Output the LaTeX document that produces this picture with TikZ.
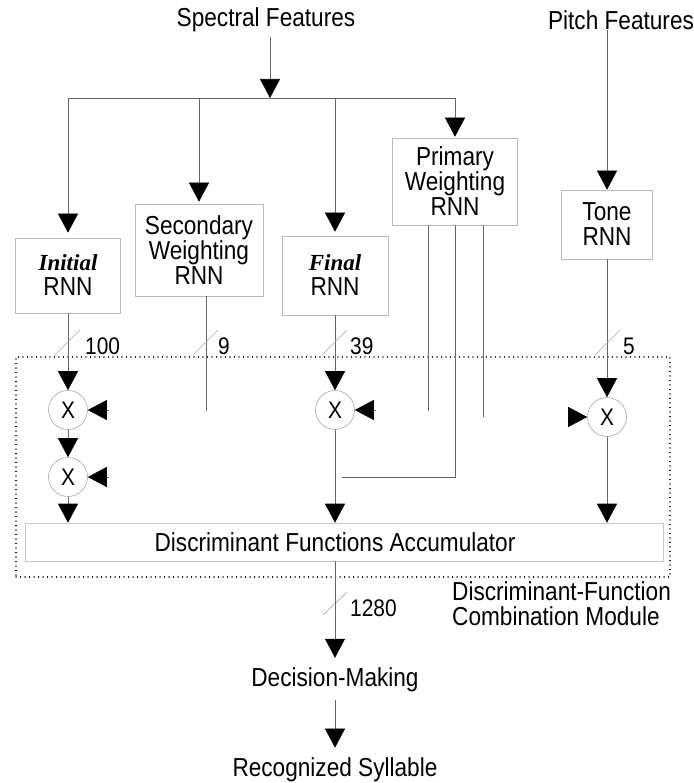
\documentclass[tikz,border=0pt]{standalone}
\usepackage{fontspec}
\setmainfont[FakeStretch=0.87]{Liberation Sans}
\newfontfamily\biserif{Liberation Serif}
\usetikzlibrary{arrows.meta}
\begin{document}
\begin{tikzpicture}[x=1pt,y=-1pt,
  lbl/.style={font=\fontsize{26}{25}\selectfont, inner sep=0pt},
  blk/.style={draw=gray!55, line width=0.6pt, inner sep=0pt, align=center, font=\fontsize{26}{25}\selectfont},
  wire/.style={draw=black!60, line width=0.6pt},
  arr/.style={wire, -{Triangle[width=20pt,length=19pt,black]}},
  mult/.style={circle, draw=gray!70, line width=0.6pt, minimum size=39pt, inner sep=0pt, font=\fontsize{24}{24}\selectfont},
  num/.style={font=\fontsize{24}{24}\selectfont, anchor=west, inner sep=0pt},
  slash/.style={draw=gray!70, line width=0.6pt}
]
\useasboundingbox (0,0) rectangle (693,783);

% inputs
\node[lbl] (spec) at (266,20) {Spectral Features};
\node[lbl] (pitch) at (621,20) {Pitch Features};
\coordinate (sp) at (270,98);
\coordinate (sptop) at (270,37);
\draw[arr] (sptop) -- (sp);

% RNN blocks
\node[blk, minimum width=105pt, minimum height=75pt] (init) at (68,275.5) {{\fontsize{23}{25}\selectfont\biserif\bfseries\itshape Initial}\\RNN};
\node[blk, minimum width=128pt, minimum height=92pt] (sec) at (199,250) {Secondary\\Weighting\\RNN};
\node[blk, minimum width=106pt, minimum height=79pt] (fin) at (335,275.5) {{\fontsize{23}{25}\selectfont\biserif\bfseries\itshape Final}\\RNN};
\node[blk, minimum width=125pt, minimum height=87pt] (prim) at (455,181.5) {Primary\\Weighting\\RNN};
\node[blk, minimum width=91pt, minimum height=69pt] (tone) at (607,224.5) {Tone\\RNN};

% distribution of spectral features
\draw[wire] (init.north |- sp) -- (prim.north |- sp);
\draw[arr, shorten >=5pt] (init.north |- sp) -- (init.north);
\draw[arr, shorten >=2pt] (sec.north |- sp) -- (sec.north);
\draw[arr, shorten >=4pt] (fin.north |- sp) -- (fin.north);
\draw[arr, shorten >=1pt] (prim.north |- sp) -- (prim.north);
\draw[arr] (pitch.south -| tone.north) -- (tone.north);

% combination module
\node[draw=black, line width=1.3pt, dash pattern=on 0.1pt off 4.4pt, line cap=round,
      minimum width=654pt, minimum height=220pt, inner sep=0pt] (mod) at (343,467) {};
\node[lbl, align=left, anchor=west] (modl) at (452,604) {Discriminant-Function\\Combination Module};

\node[draw=gray!45, line width=0.6pt, minimum width=638pt, minimum height=38pt, inner sep=0pt] (acc) at (344,542) {};
\node[lbl] (acct) at (335,542) {Discriminant Functions Accumulator};

% multipliers
\node[mult] (m1) at (68,410) {X};
\node[mult] (m2) at (68,477) {X};
\node[mult] (m3) at (335,410) {X};
\node[mult] (m4) at (607,417) {X};

% initial path
\draw[arr] (init.south) -- (m1.north);
\draw[arr] (m1.south) -- (m2.north);
\draw[arr] (m2.south) -- (m2.south |- acc.north);
\coordinate (w1) at (109,410);
\coordinate (w2) at (109,477);
\draw[arr] (w1) -- (m1.east);
\draw[arr] (w2) -- (m2.east);

% secondary output
\coordinate (s9) at (206,411);
\draw[wire] (sec.south -| s9) -- (s9);

% final path
\draw[arr] (fin.south) -- (m3.north);
\draw[arr] (m3.south) -- (m3.south |- acc.north);
\coordinate (w3) at (376,410);
\draw[arr] (w3) -- (m3.east);

% primary outputs
\coordinate (p1) at (428,411);
\coordinate (p2) at (455,477);
\coordinate (p2e) at (342,477);
\coordinate (p3) at (483,417);
\draw[wire] (prim.south -| p1) -- (p1);
\draw[wire] (prim.south -| p2) -- (p2) -- (p2e);
\draw[wire] (prim.south -| p3) -- (p3);

% tone path
\draw[arr] (tone.south) -- (m4.north);
\draw[arr] (m4.south) -- (m4.south |- acc.north);
\coordinate (w4) at (568,417);
\draw[arr] (w4) -- (m4.west);

% bus width marks
\draw[slash] (55,355) -- (80,330);
\draw[slash] (193,355) -- (218,330);
\draw[slash] (322,355) -- (347,330);
\draw[slash] (595,355) -- (620,330);
\draw[slash] (323,615) -- (347,592);
\node[num] (n100) at (85,346) {100};
\node[num] (n9) at (218,346) {9};
\node[num] (n39) at (350,346) {39};
\node[num] (n5) at (623,346) {5};
\node[num] (n1280) at (350,608) {1280};

% decision
\node[lbl, minimum width=194pt, minimum height=40pt] (dec) at (335,680) {Decision-Making};
\node[lbl] (rec) at (335,770) {Recognized Syllable};
\draw[arr, shorten >=2pt] (acc.south -| dec.north) -- (dec.north);
\draw[arr, shorten >=10pt] (dec.south) -- (rec.north);
\end{tikzpicture}
\end{document}
